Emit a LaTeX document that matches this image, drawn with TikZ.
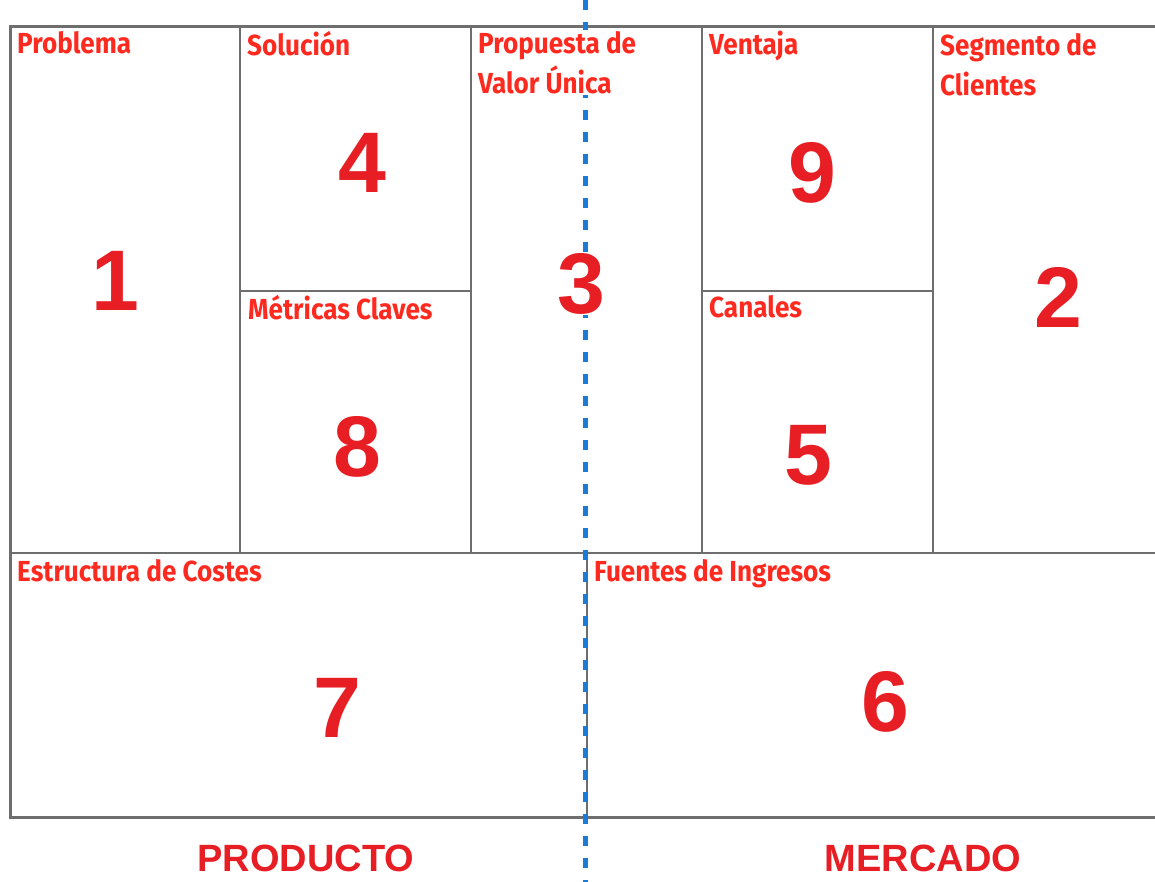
\documentclass[tikz,border=0pt]{standalone}
\usepackage{fontspec}
\setmainfont{Liberation Sans}
\newfontfamily\celltitlefont[FakeStretch=0.9]{Fira Sans}

\definecolor{titlered}{HTML}{FF2A1F}
\definecolor{numred}{HTML}{E81E25}
\definecolor{gridgray}{HTML}{6E6E6E}
\definecolor{splitblue}{HTML}{1B7BD6}

\begin{document}
\begin{tikzpicture}[x=1pt, y=-1pt,
  celltitle/.style={anchor=north west, inner sep=1pt, fill=white, text=titlered,
    align=left, font=\celltitlefont\bfseries\fontsize{29}{40}\selectfont},
  cellnum/.style={inner sep=0pt, fill=white, text=numred,
    font=\bfseries\fontsize{86}{86}\selectfont},
  sidetitle/.style={text=numred, font=\bfseries\fontsize{38}{38}\selectfont}]

\useasboundingbox (0,0) rectangle (1155,882);

% Grid
\draw[gridgray, line width=2pt] (240,27) -- (240,553);
\draw[gridgray, line width=2pt] (471,27) -- (471,553);
\draw[gridgray, line width=2pt] (702,27) -- (702,553);
\draw[gridgray, line width=2pt] (933,27) -- (933,553);
\draw[gridgray, line width=2pt] (240,291) -- (471,291);
\draw[gridgray, line width=2pt] (702,291) -- (933,291);
\draw[gridgray, line width=2pt] (10,553) -- (1155,553);
\draw[gridgray, line width=2pt] (587,553) -- (587,817);

% Outer frame, open on the right
\draw[gridgray, line width=3pt] (1155,27) -- (10,27) -- (10,817) -- (1155,817);

% Split between product and market
\draw[splitblue, line width=5pt, dash pattern=on 10pt off 12pt] (585,0) -- (585,882);

% Cell titles
\node[celltitle] (problema) at (16,30) {Problema};
\node[celltitle] (solucion) at (246,30) {Solución};
\node[celltitle] (propuesta) at (477,30) {Propuesta de\\Valor Única};
\node[celltitle] (ventaja) at (708,30) {Ventaja};
\node[celltitle] (segmento) at (939,32) {Segmento de\\Clientes};
\node[celltitle] (metricas) at (247,294) {Métricas Claves};
\node[celltitle] (canales) at (708,294) {Canales};
\node[celltitle] (costes) at (16,558) {Estructura de Costes};
\node[celltitle] (ingresos) at (593,558) {Fuentes de Ingresos};

% Numbers
\node[cellnum] (n1) at (115,281) {1};
\node[cellnum] (n4) at (362,163) {4};
\node[cellnum] (n8) at (357,447) {8};
\node[cellnum] (n3) at (581,284) {3};
\node[cellnum] (n9) at (812,173) {9};
\node[cellnum] (n5) at (808,455) {5};
\node[cellnum] (n2) at (1058,297) {2};
\node[cellnum] (n7) at (337,708) {7};
\node[cellnum] (n6) at (885,702) {6};

% Sides
\node[sidetitle] (producto) at (306,858) {PRODUCTO};
\node[sidetitle] (mercado) at (923,858) {MERCADO};

\end{tikzpicture}
\end{document}
